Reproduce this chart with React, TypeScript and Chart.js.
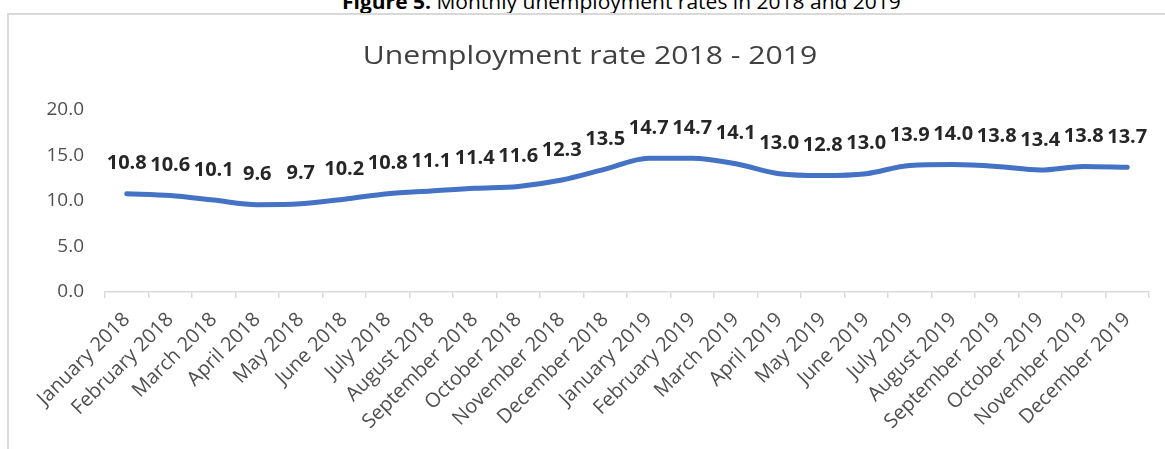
import React, { useEffect, useRef } from "react";
import { Chart, registerables } from "chart.js";

Chart.register(...registerables);

const categories: string[] = [
  "January 2018", "February 2018", "March 2018", "April 2018", "May 2018", "June 2018",
  "July 2018", "August 2018", "September 2018", "October 2018", "November 2018", "December 2018",
  "January 2019", "February 2019", "March 2019", "April 2019", "May 2019", "June 2019",
  "July 2019", "August 2019", "September 2019", "October 2019", "November 2019", "December 2019",
];

const unemploymentRate: number[] = [
  10.8, 10.6, 10.1, 9.6, 9.7, 10.2, 10.8, 11.1, 11.4, 11.6, 12.3, 13.5,
  14.7, 14.7, 14.1, 13.0, 12.8, 13.0, 13.9, 14.0, 13.8, 13.4, 13.8, 13.7,
];

const yTickValues: number[] = [0, 5, 10, 15, 20];

const chartTitle = "Unemployment rate 2018 - 2019";
const captionBold = "Figure 5.";
const captionText = " Monthly unemployment rates in 2018 and 2019";

const FONT = "'Open Sans', Lato, sans-serif";

const titlePlugin = {
  id: "customTitle",
  afterDraw(chart: any) {
    const ctx = chart.ctx;
    ctx.save();
    ctx.font = `26px ${FONT}`;
    ctx.fillStyle = "#404040";
    ctx.textAlign = "center";
    ctx.textBaseline = "alphabetic";
    ctx.translate(590, 64);
    ctx.scale(1.16, 1);
    ctx.fillText(chartTitle, 0, 0);
    ctx.restore();
  },
};

const dataLabelPlugin = {
  id: "dataLabels",
  afterDatasetsDraw(chart: any) {
    const ctx = chart.ctx;
    const meta = chart.getDatasetMeta(0);
    const data = chart.data.datasets[0].data as number[];
    ctx.save();
    ctx.font = `bold 20px ${FONT}`;
    ctx.fillStyle = "#262626";
    ctx.textAlign = "center";
    ctx.textBaseline = "middle";
    meta.data.forEach((pt: any, i: number) => {
      ctx.fillText(data[i].toFixed(1), pt.x, pt.y - 30);
    });
    ctx.restore();
  },
};

export default function App() {
  const canvasRef = useRef<HTMLCanvasElement | null>(null);

  useEffect(() => {
    document.body.style.margin = "0";
    const canvas = canvasRef.current;
    if (!canvas) return;
    const chart = new Chart(canvas, {
      type: "line",
      data: {
        labels: categories,
        datasets: [
          {
            data: unemploymentRate,
            borderColor: "#4472C4",
            backgroundColor: "#4472C4",
            borderWidth: 5,
            borderCapStyle: "round",
            borderJoinStyle: "round",
            pointRadius: 0,
            tension: 0.3,
            cubicInterpolationMode: "monotone",
            fill: false,
          },
        ],
      },
      options: {
        animation: false,
        responsive: false,
        maintainAspectRatio: false,
        layout: { padding: { top: 110, right: 16, left: 0, bottom: 0 } },
        plugins: {
          legend: { display: false },
          title: { display: false },
          tooltip: { enabled: false },
        },
        scales: {
          x: {
            type: "category",
            offset: true,
            afterFit: (scale: any) => {
              scale.height = 157;
            },
            grid: {
              display: true,
              offset: true,
              drawOnChartArea: false,
              drawTicks: true,
              tickLength: 6,
              color: "#d9d9d9",
              lineWidth: 1.5,
            },
            border: { display: true, color: "#d9d9d9", width: 1.5 },
            ticks: {
              autoSkip: false,
              maxRotation: 45,
              minRotation: 45,
              padding: 10,
              color: "#505050",
              font: { family: FONT, size: 20 },
            },
          },
          y: {
            min: 0,
            max: 20,
            afterFit: (scale: any) => {
              scale.width = 105;
            },
            afterBuildTicks: (scale: any) => {
              scale.ticks = yTickValues.map((v) => ({ value: v }));
            },
            grid: { display: false, drawTicks: false },
            border: { display: false },
            ticks: {
              padding: 21,
              color: "#505050",
              font: { family: FONT, size: 19 },
              callback: (v: any) => Number(v).toFixed(1),
            },
          },
        },
      },
      plugins: [titlePlugin, dataLabelPlugin],
    });
    return () => chart.destroy();
  }, []);

  return (
    <div style={{ position: "relative", width: 1165, height: 449, overflow: "hidden", background: "#fff" }}>
      <div
        style={{
          position: "absolute",
          top: -8,
          left: 342,
          fontFamily: FONT,
          fontSize: 20,
          lineHeight: "20px",
          color: "#000",
          whiteSpace: "nowrap",
          transform: "scaleX(1.05)",
          transformOrigin: "left top",
        }}
      >
        <b>{captionBold}</b>
        {captionText}
      </div>
      <div
        style={{
          position: "absolute",
          left: 7,
          top: 13,
          width: 1200,
          height: 500,
          borderTop: "2px solid #d9d9d9",
          borderLeft: "2px solid #d9d9d9",
          boxSizing: "border-box",
        }}
      />
      <canvas
        ref={canvasRef}
        width={1165}
        height={449}
        style={{ position: "absolute", left: 0, top: 0, width: 1165, height: 449 }}
      />
    </div>
  );
}
